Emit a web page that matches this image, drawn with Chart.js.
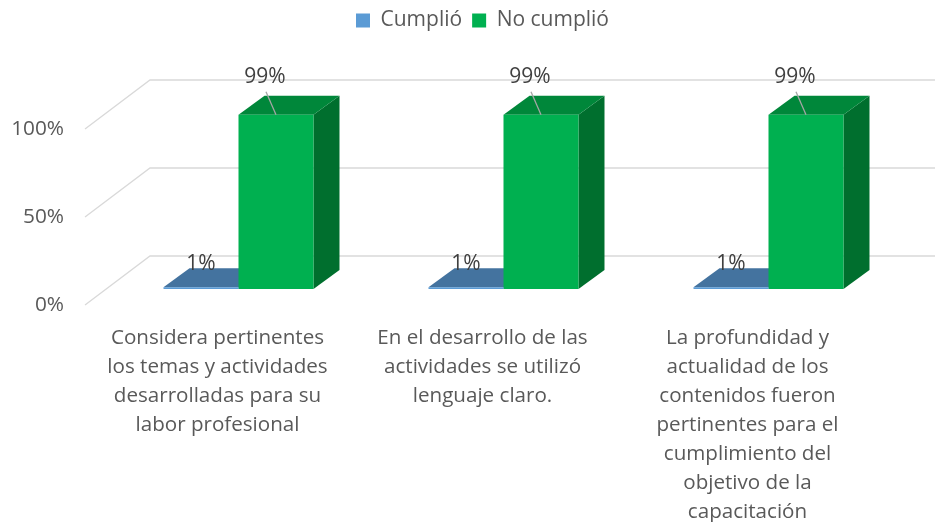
<!DOCTYPE html>
<html>
<head>
<meta charset="utf-8">
<script src="https://cdn.jsdelivr.net/npm/chart.js@4/dist/chart.umd.min.js"></script>
<style>
  body { margin: 0; background: #ffffff; }
  #wrap { width: 935px; height: 522px; }
</style>
</head>
<body>
<div id="wrap"><canvas id="chart" width="935" height="522"></canvas></div>
<script>
// Chart values
const CATEGORIES = [
    ['Considera pertinentes', 'los temas y actividades', 'desarrolladas para su', 'labor profesional'],
    ['En el desarrollo de las', 'actividades se utilizó', 'lenguaje claro.'],
    ['La profundidad y', 'actualidad de los', 'contenidos fueron', 'pertinentes para el', 'cumplimiento del', 'objetivo de la', 'capacitación']
];
const CUMPLIO = [1, 1, 1];
const NO_CUMPLIO = [99, 99, 99];
const Y_TICKS = [0, 50, 100];

// 3D look (pixels)
const SHIFT_X = 21, SHIFT_Y = -16;   // bars sit a bit behind the front edge
const DEPTH_X = 26, DEPTH_Y = -19;   // bar depth
const WALL_X = 65, WALL_Y = -49;     // floor / back wall depth

const FONT = '"Open Sans", "Noto Sans", sans-serif';

const faceColors = [
    { front: '#5B9BD5', top: '#44739F', side: '#2F5F8E' },
    { front: '#00B050', top: '#00873A', side: '#006F2E' }
];

/**
 * Draws back wall gridlines, top and side faces of the bars,
 * and the data labels with leader lines.
 */
const bar3d = {
    id: 'bar3d',
    beforeDatasetsDraw(chart) {
        const ctx = chart.ctx;
        const area = chart.chartArea;
        const yScale = chart.scales.y;

        // gridlines: floor diagonal then along the back wall
        ctx.save();
        ctx.strokeStyle = '#D9D9D9';
        ctx.lineWidth = 1.3;
        Y_TICKS.forEach(function(v) {
            const y = yScale.getPixelForValue(v);
            ctx.beginPath();
            ctx.moveTo(area.left, y);
            ctx.lineTo(area.left + WALL_X, y + WALL_Y);
            ctx.lineTo(chart.width, y + WALL_Y);
            ctx.stroke();
        });
        ctx.restore();

        // shifted drawing for the bars (restored in afterDatasetsDraw)
        ctx.save();
        ctx.translate(SHIFT_X, SHIFT_Y);

        chart.data.datasets.forEach(function(ds, di) {
            const meta = chart.getDatasetMeta(di);
            const colors = faceColors[di];
            meta.data.forEach(function(bar) {
                const p = bar.getProps(['x', 'y', 'base', 'width'], true);
                const x1 = p.x - p.width / 2;
                const x2 = p.x + p.width / 2;

                // side face
                ctx.fillStyle = colors.side;
                ctx.beginPath();
                ctx.moveTo(x2, p.base);
                ctx.lineTo(x2 + DEPTH_X, p.base + DEPTH_Y);
                ctx.lineTo(x2 + DEPTH_X, p.y + DEPTH_Y);
                ctx.lineTo(x2, p.y);
                ctx.closePath();
                ctx.fill();

                // top face
                ctx.fillStyle = colors.top;
                ctx.beginPath();
                ctx.moveTo(x1, p.y);
                ctx.lineTo(x2, p.y);
                ctx.lineTo(x2 + DEPTH_X, p.y + DEPTH_Y);
                ctx.lineTo(x1 + DEPTH_X, p.y + DEPTH_Y);
                ctx.closePath();
                ctx.fill();
            });
        });
    },
    afterDatasetsDraw(chart) {
        const ctx = chart.ctx;
        ctx.restore();

        ctx.save();
        ctx.font = '21px ' + FONT;
        ctx.fillStyle = '#404040';
        ctx.textAlign = 'center';
        ctx.textBaseline = 'middle';
        chart.data.datasets.forEach(function(ds, di) {
            const meta = chart.getDatasetMeta(di);
            meta.data.forEach(function(bar, i) {
                const p = bar.getProps(['x', 'y'], true);
                const cx = p.x + SHIFT_X;
                const cy = p.y + SHIFT_Y;
                const text = ds.data[i] + '%';
                if (di === 1) {
                    // label above the bar with a leader line
                    ctx.strokeStyle = '#A6A6A6';
                    ctx.lineWidth = 1.3;
                    ctx.beginPath();
                    ctx.moveTo(cx - 10, cy - 23);
                    ctx.lineTo(cx, cy);
                    ctx.stroke();
                    ctx.fillText(text, cx - 11, cy - 38);
                } else {
                    ctx.fillText(text, cx, cy - 23);
                }
            });
        });
        ctx.restore();
    }
};

new Chart(document.getElementById('chart'), {
    type: 'bar',
    data: {
        labels: CATEGORIES,
        datasets: [
            {
                label: 'Cumplió',
                data: CUMPLIO,
                backgroundColor: faceColors[0].front,
                borderWidth: 0,
                clip: false
            },
            {
                label: 'No cumplió',
                data: NO_CUMPLIO,
                backgroundColor: faceColors[1].front,
                borderWidth: 0,
                clip: false
            }
        ]
    },
    options: {
        responsive: false,
        animation: false,
        datasets: {
            bar: {
                barPercentage: 1,
                categoryPercentage: 0.566
            }
        },
        layout: {
            padding: { left: 0, right: 55, top: 0, bottom: 0 }
        },
        plugins: {
            legend: {
                position: 'top',
                fullSize: false,
                labels: {
                    boxWidth: 14,
                    boxHeight: 14,
                    padding: 10,
                    color: '#595959',
                    font: { family: FONT, size: 21 }
                }
            },
            tooltip: { enabled: false }
        },
        scales: {
            x: {
                grid: { display: false, drawTicks: false },
                border: { display: false },
                ticks: {
                    color: '#595959',
                    font: { family: FONT, size: 20.6, lineHeight: '29px' },
                    padding: 19,
                    maxRotation: 0,
                    autoSkip: false
                },
                afterFit: function(scale) { scale.height = 217; }
            },
            y: {
                min: 0,
                max: 150,
                grid: { display: false, drawTicks: false },
                border: { display: false },
                ticks: {
                    color: '#595959',
                    font: { family: FONT, size: 20.8 },
                    padding: 21,
                    callback: function(value) { return value + '%'; }
                },
                afterBuildTicks: function(scale) {
                    scale.ticks = Y_TICKS.map(function(v) { return { value: v }; });
                },
                afterFit: function(scale) { scale.width = 85; }
            }
        }
    },
    plugins: [bar3d]
});
</script>
</body>
</html>
